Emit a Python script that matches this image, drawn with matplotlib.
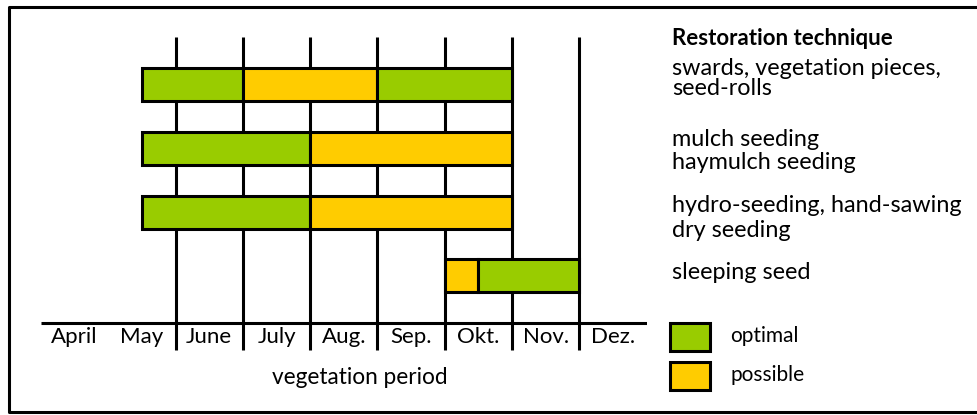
import matplotlib.pyplot as plt
from matplotlib.patches import Rectangle
from matplotlib.lines import Line2D
import numpy as np

plt.rcParams['font.family'] = ['Lato', 'DejaVu Sans']

months = ['April', 'May', 'June', 'July', 'Aug.', 'Sep.', 'Okt.', 'Nov.', 'Dez.']

techniques = [
    'swards, vegetation pieces,\nseed-rolls',
    'mulch seeding\nhaymulch seeding',
    'hydro-seeding, hand-sawing\ndry seeding',
    'sleeping seed',
]

# one list of (start month, end month, kind) per technique; months counted from April = 0
periods = [
    [(1.5, 3, 'optimal'), (3, 5, 'possible'), (5, 7, 'optimal')],
    [(1.5, 4, 'optimal'), (4, 7, 'possible')],
    [(1.5, 4, 'optimal'), (4, 7, 'possible')],
    [(6, 6.5, 'possible'), (6.5, 8, 'optimal')],
]

colors = {'optimal': '#99cc00', 'possible': '#ffcc00'}
legend_labels = ['optimal', 'possible']

W, H = 977, 415
fig = plt.figure(figsize=(W / 100, H / 100), dpi=100)

# month axis: 1 month = 67.3 px starting at x=41; rows 63.8 px apart, first row at y=84.5
x0, mw = 41, 67.3
r0, rh = 84.5, 63.8
ax = fig.add_axes([x0 / W, 0, 9 * mw / W, 1])
ax.set_xlim(0, 9)
ax.set_ylim((H - r0) / rh, -r0 / rh)
ax.axis('off')

line_top = (37 - r0) / rh
base_y = (323 - r0) / rh
line_bot = (350 - r0) / rh

ax.vlines(np.arange(2, 9), line_top, line_bot, color='black', lw=2.2, zorder=1)
ax.hlines(base_y, 0, 9, color='black', lw=2.2, zorder=1)

for i, row in enumerate(periods):
    for start, end, kind in row:
        ax.barh(i, end - start, left=start, height=0.52, color=colors[kind],
                edgecolor='black', linewidth=2.2, zorder=3)

for k, m in enumerate(months):
    ax.text(k + 0.5, (337 - r0) / rh, m, ha='center', va='center', fontsize=16)

ax.text(4.74, (377 - r0) / rh, 'vegetation period', ha='center', va='center', fontsize=16.3)

# right-hand panel
def fx(px):
    return px / W

def fy(py):
    return 1 - py / H

fig.text(fx(672), fy(45), 'Restoration technique', fontsize=16, fontweight='bold',
         va='baseline', ha='left')

# pixel baseline of each text line in the technique list
line_rows = [[75, 95], [146, 169], [212, 237], [279]]
for rows, t in zip(line_rows, techniques):
    for y, part in zip(rows, t.split('\n')):
        fig.text(fx(672), fy(y), part, fontsize=16.8, va='baseline', ha='left')

for j, lab in enumerate(legend_labels):
    top = 323 + j * 39
    fig.add_artist(Rectangle((fx(670), fy(top + 28)), 40 / W, 28 / H,
                             transform=fig.transFigure, facecolor=colors[lab],
                             edgecolor='black', linewidth=2.2))
    fig.text(fx(730), fy(top + 13), lab, fontsize=15, va='center', ha='left')

# frame: left, top and bottom edges only, the right edge runs off the figure
frame_x = [fx(W + 5), fx(9), fx(9), fx(W + 5)]
frame_y = [fy(7), fy(7), fy(412), fy(412)]
fig.add_artist(Line2D(frame_x, frame_y, transform=fig.transFigure,
                      color='black', linewidth=2.2))

fig.savefig('out.png', dpi=100)
